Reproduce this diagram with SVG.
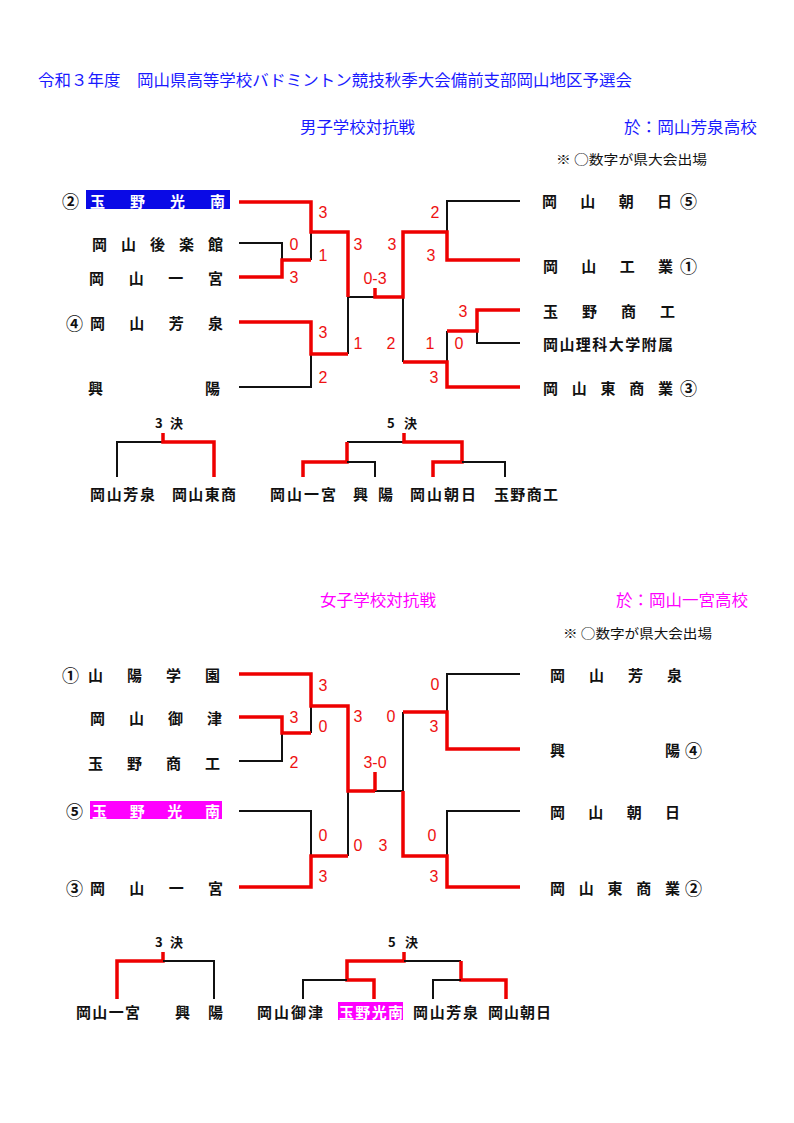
<svg xmlns="http://www.w3.org/2000/svg" width="794" height="1123" viewBox="0 0 794 1123">
<style>
text{font-family:"Liberation Sans","Noto Sans CJK JP",sans-serif;dominant-baseline:central}
.hd{font-size:16px;fill:#1a1aff}
.hm{font-size:16px;fill:#ff00ff}
.nt{font-family:"Noto Sans CJK JP",sans-serif;font-size:13px;fill:#111}
.n{font-family:"Noto Sans CJK JP","Liberation Sans",sans-serif;font-size:15px;font-weight:bold;fill:#111}
.w{fill:#fff}
.c{font-family:"Noto Sans CJK JP",sans-serif;font-size:17px;font-weight:bold;fill:#111}
.s{font-size:16px;fill:#ee1111;text-anchor:middle}
.k{font-family:"Noto Sans CJK JP",sans-serif;font-size:13px;font-weight:bold;fill:#111}
.r{fill:none;stroke:#ee0000;stroke-width:3.5;stroke-linejoin:miter}
.b{fill:none;stroke:#111;stroke-width:2}
</style>
<rect width="794" height="1123" fill="#fff"/>

<g id="headers">
<text class="hd" x="38" y="80" textLength="594" lengthAdjust="spacingAndGlyphs">令和３年度　岡山県高等学校バドミントン競技秋季大会備前支部岡山地区予選会</text>
<text class="hd" x="300" y="127" textLength="115" lengthAdjust="spacingAndGlyphs">男子学校対抗戦</text>
<text class="hd" x="624" y="127" textLength="133" lengthAdjust="spacingAndGlyphs">於：岡山芳泉高校</text>
<text class="nt" x="556" y="158" textLength="151" lengthAdjust="spacingAndGlyphs">※ ○数字が県大会出場</text>
<text class="hm" x="320" y="600" textLength="116" lengthAdjust="spacingAndGlyphs">女子学校対抗戦</text>
<text class="hm" x="616" y="600" textLength="132" lengthAdjust="spacingAndGlyphs">於：岡山一宮高校</text>
<text class="nt" x="563" y="632" textLength="149" lengthAdjust="spacingAndGlyphs">※ ○数字が県大会出場</text>
</g>

<!-- Men's bracket connectors -->
<g id="men-connectors">
<path class="b" d="M239,243 H282 V260"/>
<path class="b" d="M311,232 V260"/>
<path class="b" d="M239,387 H311 V354"/>
<path class="b" d="M348,297 V354"/>
<path class="b" d="M348,297 H375"/>
<path class="b" d="M403,297 V362"/>
<path class="b" d="M520,201 H447 V232"/>
<path class="b" d="M520,343 H477 V331"/>
<path class="b" d="M447,331 V362"/>
<path class="r" d="M239,202 H311 V232 H348 V297"/>
<path class="r" d="M239,277 H282 V260 H311"/>
<path class="r" d="M239,322 H311 V354 H348"/>
<path class="r" d="M375,288 V297 H403 V232 H447 V260 H520"/>
<path class="r" d="M520,310 H477 V331 H447"/>
<path class="r" d="M403,362 H447 V387 H520"/>
<path class="b" d="M163,442 H117 V477"/>
<path class="r" d="M163,433 V442 H214 V477"/>
<path class="b" d="M404,442 H347"/>
<path class="r" d="M347,442 V462 H303 V477"/>
<path class="b" d="M347,462 H375 V477"/>
<path class="r" d="M404,433 V442 H462 V462 H433 V477"/>
<path class="b" d="M462,462 H505 V477"/>
</g>

<!-- Men's nodes -->
<g id="m-tamanokonan"><text class="c" x="62" y="200">②</text><rect x="86" y="190" width="144" height="19" fill="#0a0ae6"/><text class="n w" x="90" y="200" textLength="135" lengthAdjust="spacing">玉野光南</text></g>
<g id="m-korakukan"><text class="n" x="92" y="243" textLength="131" lengthAdjust="spacing">岡山後楽館</text></g>
<g id="m-ichinomiya"><text class="n" x="89" y="277" textLength="134" lengthAdjust="spacing">岡山一宮</text></g>
<g id="m-hosen"><text class="c" x="66" y="322">④</text><text class="n" x="90" y="322" textLength="133" lengthAdjust="spacing">岡山芳泉</text></g>
<g id="m-koyo"><text class="n" x="88" y="387" textLength="132" lengthAdjust="spacing">興陽</text></g>
<g id="m-asahi"><text class="n" x="542" y="200" textLength="130" lengthAdjust="spacing">岡山朝日</text><text class="c" x="680" y="200">⑤</text></g>
<g id="m-kogyo"><text class="n" x="543" y="265" textLength="130" lengthAdjust="spacing">岡山工業</text><text class="c" x="680" y="265">①</text></g>
<g id="m-tamanoshoko"><text class="n" x="543" y="310" textLength="132" lengthAdjust="spacing">玉野商工</text></g>
<g id="m-rika"><text class="n" x="543" y="343" textLength="130" lengthAdjust="spacing">岡山理科大学附属</text></g>
<g id="m-higashisho"><text class="n" x="543" y="387" textLength="130" lengthAdjust="spacing">岡山東商業</text><text class="c" x="680" y="387">③</text></g>

<g id="m-scores">
<text class="s" x="323" y="212">3</text>
<text class="s" x="294" y="244">0</text>
<text class="s" x="323" y="255">1</text>
<text class="s" x="294" y="277">3</text>
<text class="s" x="323" y="332">3</text>
<text class="s" x="323" y="377">2</text>
<text class="s" x="358" y="244">3</text>
<text class="s" x="392" y="244">3</text>
<text class="s" x="375" y="278">0-3</text>
<text class="s" x="358" y="343">1</text>
<text class="s" x="391" y="343">2</text>
<text class="s" x="435" y="212">2</text>
<text class="s" x="431" y="255">3</text>
<text class="s" x="463" y="311">3</text>
<text class="s" x="459" y="343">0</text>
<text class="s" x="430" y="343">1</text>
<text class="s" x="434" y="377">3</text>
</g>

<g id="m-3rd"><text class="k" x="155" y="422" textLength="28" lengthAdjust="spacing">3 決</text>
<text class="n" x="90" y="493" textLength="65" lengthAdjust="spacing">岡山芳泉</text>
<text class="n" x="172" y="493" textLength="64" lengthAdjust="spacing">岡山東商</text></g>
<g id="m-5th"><text class="k" x="387" y="422" textLength="30" lengthAdjust="spacing">5 決</text>
<text class="n" x="270" y="493" textLength="66" lengthAdjust="spacing">岡山一宮</text>
<text class="n" x="353" y="493" textLength="40" lengthAdjust="spacing">興陽</text>
<text class="n" x="410" y="493" textLength="66" lengthAdjust="spacing">岡山朝日</text>
<text class="n" x="494" y="493" textLength="64" lengthAdjust="spacing">玉野商工</text></g>

<!-- Women's bracket connectors -->
<g id="women-connectors">
<path class="b" d="M239,761 H282 V733"/>
<path class="b" d="M311,733 V706"/>
<path class="b" d="M239,811 H311 V856"/>
<path class="b" d="M348,856 V791"/>
<path class="b" d="M375,791 H403 V712"/>
<path class="b" d="M520,674 H447 V712"/>
<path class="b" d="M520,811 H447 V856"/>
<path class="r" d="M239,674 H311 V706 H348 V791 H375"/>
<path class="r" d="M375,772 V791"/>
<path class="r" d="M239,717 H282 V733 H311"/>
<path class="r" d="M239,887 H311 V856 H348"/>
<path class="r" d="M403,712 H447 V749 H520"/>
<path class="r" d="M403,791 V856 H447 V887 H520"/>
<path class="r" d="M163,952 V961 H117 V999"/>
<path class="b" d="M163,961 H214 V999"/>
<path class="r" d="M404,952 V961 H347 V980 H374 V999"/>
<path class="b" d="M347,980 H303 V999"/>
<path class="b" d="M404,961 H461"/>
<path class="r" d="M461,961 V980 H506 V999"/>
<path class="b" d="M461,980 H433 V999"/>
</g>

<!-- Women's nodes -->
<g id="w-sanyo"><text class="c" x="62" y="674">①</text><text class="n" x="88" y="674" textLength="132" lengthAdjust="spacing">山陽学園</text></g>
<g id="w-mitsu"><text class="n" x="90" y="717" textLength="132" lengthAdjust="spacing">岡山御津</text></g>
<g id="w-tamanoshoko"><text class="n" x="88" y="762" textLength="132" lengthAdjust="spacing">玉野商工</text></g>
<g id="w-tamanokonan"><text class="c" x="66" y="810">⑤</text><rect x="90" y="801" width="132" height="18" fill="#ff00ff"/><text class="n w" x="92" y="810" textLength="128" lengthAdjust="spacing">玉野光南</text></g>
<g id="w-ichinomiya"><text class="c" x="66" y="887">③</text><text class="n" x="90" y="887" textLength="133" lengthAdjust="spacing">岡山一宮</text></g>
<g id="w-hosen"><text class="n" x="550" y="674" textLength="132" lengthAdjust="spacing">岡山芳泉</text></g>
<g id="w-koyo"><text class="n" x="550" y="749" textLength="130" lengthAdjust="spacing">興陽</text><text class="c" x="685" y="749">④</text></g>
<g id="w-asahi"><text class="n" x="550" y="811" textLength="130" lengthAdjust="spacing">岡山朝日</text></g>
<g id="w-higashisho"><text class="n" x="550" y="887" textLength="130" lengthAdjust="spacing">岡山東商業</text><text class="c" x="685" y="887">②</text></g>

<g id="w-scores">
<text class="s" x="323" y="685">3</text>
<text class="s" x="294" y="717">3</text>
<text class="s" x="323" y="726">0</text>
<text class="s" x="294" y="762">2</text>
<text class="s" x="323" y="835">0</text>
<text class="s" x="323" y="876">3</text>
<text class="s" x="358" y="716">3</text>
<text class="s" x="391" y="716">0</text>
<text class="s" x="375" y="762">3-0</text>
<text class="s" x="358" y="845">0</text>
<text class="s" x="383" y="845">3</text>
<text class="s" x="435" y="684">0</text>
<text class="s" x="434" y="726">3</text>
<text class="s" x="432" y="835">0</text>
<text class="s" x="434" y="876">3</text>
</g>

<g id="w-3rd"><text class="k" x="155" y="941" textLength="28" lengthAdjust="spacing">3 決</text>
<text class="n" x="76" y="1011" textLength="64" lengthAdjust="spacing">岡山一宮</text>
<text class="n" x="175" y="1011" textLength="48" lengthAdjust="spacing">興陽</text></g>
<g id="w-5th"><text class="k" x="388" y="941" textLength="30" lengthAdjust="spacing">5 決</text>
<text class="n" x="257" y="1011" textLength="66" lengthAdjust="spacing">岡山御津</text>
<rect x="338" y="1002" width="65" height="18" fill="#ff00ff"/>
<text class="n w" x="339" y="1011" textLength="64" lengthAdjust="spacing">玉野光南</text>
<text class="n" x="413" y="1011" textLength="65" lengthAdjust="spacing">岡山芳泉</text>
<text class="n" x="488" y="1011" textLength="63" lengthAdjust="spacing">岡山朝日</text></g>
</svg>
